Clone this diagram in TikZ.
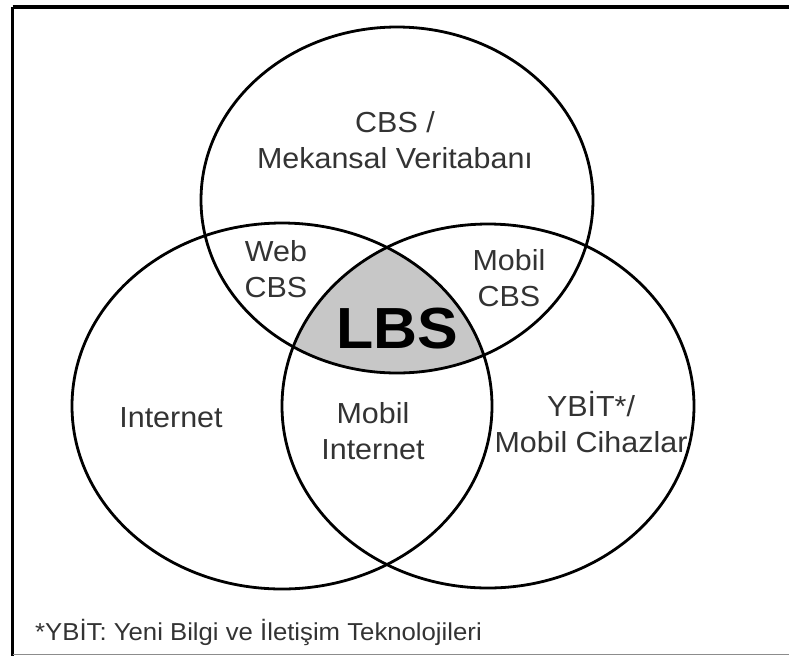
\documentclass[tikz,border=0pt]{standalone}
\usepackage{fontspec}
\newfontfamily\lblfont[FakeStretch=1.05]{Liberation Sans}
\begin{document}
\begin{tikzpicture}[x=1pt,y=-1pt,
  setline/.style={line width=2.8pt, draw=black},
  lbl/.style={font=\lblfont\fontsize{29}{35.5}\selectfont, text=black!80, align=center, inner sep=0pt, anchor=base},
  big/.style={font=\lblfont\fontsize{58}{60}\selectfont\bfseries, text=black, inner sep=0pt, anchor=base},
  note/.style={font=\lblfont\fontsize{24.5}{28}\selectfont, text=black!80, inner sep=0pt, anchor=base west}]
  \useasboundingbox (0,0) rectangle (789,657);
  % frame (its right side lies past the page edge)
  \draw[line width=4pt] (12.5,6.5) -- (800,6.5);
  \draw[line width=3.5pt] (12.5,6.5) -- (12.5,656);
  \draw[line width=1.5pt, black!45] (12.5,654.5) -- (800,654.5);
  % shaded triple intersection
  \begin{scope}
    \clip (397,200) ellipse [x radius=196, y radius=173];
    \clip (282,406) ellipse [x radius=210, y radius=183];
    \fill[black!22] (488,406) ellipse [x radius=206, y radius=182];
  \end{scope}
  % labels (two-line nodes are placed by the baseline of their last line)
  \node[lbl] (gis) at (395,168) {CBS /\\Mekansal Veritabanı};
  \node[lbl] (web) at (276,297) {Web\\CBS};
  \node[lbl] (mgis) at (509,306) {Mobil\\CBS};
  \node[big] (lbs) at (397,348) {LBS};
  \node[lbl] (inet) at (171,427) {Internet};
  \node[lbl] (minet) at (373,459) {Mobil\\Internet};
  \node[lbl] (dev) at (591,452) {YBİT*/\\Mobil Cihazlar};
  \node[note] (fn) at (35,640) {*YBİT: Yeni Bilgi ve İletişim Teknolojileri};
  % the three sets
  \draw[setline] (397,200) ellipse [x radius=196, y radius=173];
  \draw[setline] (282,406) ellipse [x radius=210, y radius=183];
  \draw[setline] (488,406) ellipse [x radius=206, y radius=182];
\end{tikzpicture}
\end{document}
